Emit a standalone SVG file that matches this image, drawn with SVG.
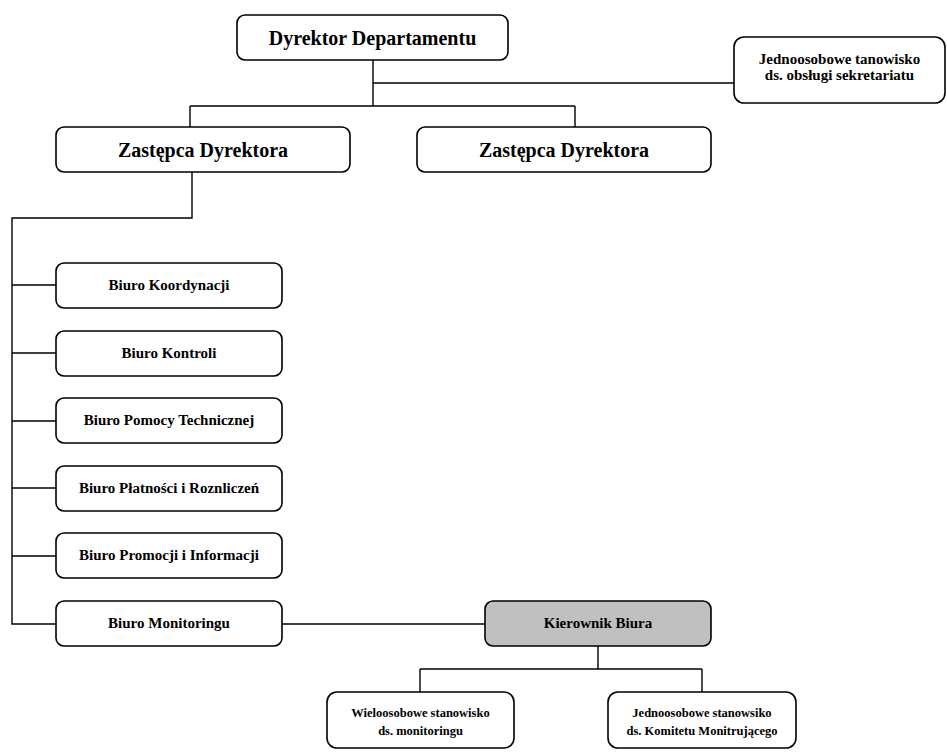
<svg xmlns="http://www.w3.org/2000/svg" width="947" height="755" viewBox="0 0 947 755">
<style>
.b{fill:#fff;stroke:#000;stroke-width:1.6}
.g{fill:#c0c0c0;stroke:#000;stroke-width:1.6}
.c{fill:none;stroke:#000;stroke-width:1.4}
text{font-family:'Liberation Serif','Times New Roman','DejaVu Serif',serif;font-weight:700;fill:#000;text-anchor:middle}
.l{font-size:20px}
.s{font-size:15px}
.t{font-size:12.5px}
</style>
<rect width="947" height="755" fill="#fff"/>
<g id="connectors">
<path class="c" d="M373 60V106M373 83H734M190 106H575M190 106V127M575 106V127"/>
<path class="c" d="M192 172V218H12V624H56M12 285H56M12 353H56M12 421H56M12 488H56M12 556H56"/>
<path class="c" d="M282 624H485M598 646V669M420 669H702M420 669V692M702 669V692"/>
</g>
<g id="n-dyrektor"><rect class="b" x="237" y="15" width="271" height="45" rx="8"/><text class="l" x="372.5" y="44.5">Dyrektor Departamentu</text></g>
<g id="n-sekretariat"><rect class="b" x="734" y="37" width="211" height="66" rx="10"/><text class="s" x="839.5" y="64">Jednoosobowe tanowisko</text><text class="s" x="839.5" y="80">ds. obsługi sekretariatu</text></g>
<g id="n-zastepca1"><rect class="b" x="56" y="127" width="294" height="45" rx="8"/><text class="l" x="203" y="156.5">Zastępca Dyrektora</text></g>
<g id="n-zastepca2"><rect class="b" x="417" y="127" width="294" height="45" rx="8"/><text class="l" x="564" y="156.5">Zastępca Dyrektora</text></g>
<g id="n-koordynacji"><rect class="b" x="56" y="263" width="226" height="45" rx="8"/><text class="s" x="169" y="290">Biuro Koordynacji</text></g>
<g id="n-kontroli"><rect class="b" x="56" y="331" width="226" height="45" rx="8"/><text class="s" x="169" y="358">Biuro Kontroli</text></g>
<g id="n-pomocy"><rect class="b" x="56" y="398" width="226" height="45" rx="8"/><text class="s" x="169" y="425">Biuro Pomocy Technicznej</text></g>
<g id="n-platnosci"><rect class="b" x="56" y="466" width="226" height="45" rx="8"/><text class="s" x="169" y="493">Biuro Płatności i Roznliczeń</text></g>
<g id="n-promocji"><rect class="b" x="56" y="533" width="226" height="45" rx="8"/><text class="s" x="169" y="560">Biuro Promocji i Informacji</text></g>
<g id="n-monitoringu"><rect class="b" x="56" y="601" width="226" height="45" rx="8"/><text class="s" x="169" y="628">Biuro Monitoringu</text></g>
<g id="n-kierownik"><rect class="g" x="485" y="601" width="226" height="45" rx="8"/><text class="s" x="598" y="628">Kierownik Biura</text></g>
<g id="n-wieloosobowe"><rect class="b" x="327" y="692" width="187" height="56" rx="10"/><text class="t" x="420.5" y="717">Wieloosobowe stanowisko</text><text class="t" x="420.5" y="735">ds. monitoringu</text></g>
<g id="n-jednoosobowe"><rect class="b" x="608" y="692" width="188" height="56" rx="10"/><text class="t" x="702" y="717">Jednoosobowe stanowsiko</text><text class="t" x="702" y="735">ds. Komitetu Monitrującego</text></g>
</svg>
